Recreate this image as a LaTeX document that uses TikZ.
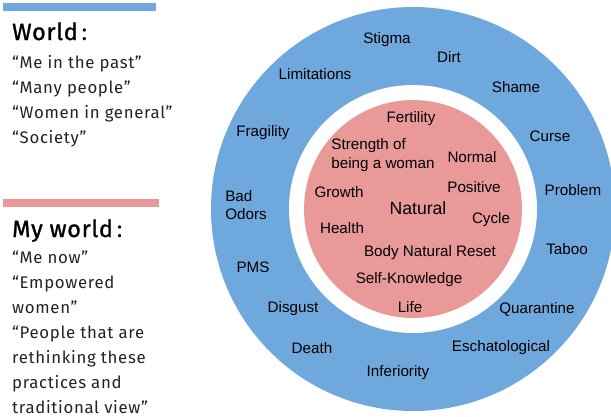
\documentclass[tikz,border=0pt]{standalone}
\usepackage{fontspec}
\setmainfont{Liberation Sans}
\newfontfamily\slidefont[LetterSpace=4]{Fira Sans}
\newfontfamily\slidehead[LetterSpace=3, FakeBold=1.2]{Fira Sans}
\usetikzlibrary{positioning}
\definecolor{ringblue}{HTML}{6FA8DC}
\definecolor{corepink}{HTML}{EA9999}
\definecolor{txtdark}{RGB}{35,35,35}
\tikzset{
  word/.style={font=\fontsize{15.2}{18.5}\selectfont, inner sep=0pt, text=black},
  bigword/.style={font=\fontsize{17.6}{20}\selectfont, inner sep=0pt, text=black},
  headline/.style={font=\fontsize{23.5}{26}\selectfont, anchor=base west,
    inner sep=0pt, text=black},
  quoteline/.style={font=\slidefont\fontsize{16.8}{20}\selectfont, anchor=base west,
    inner sep=0pt, text=txtdark},
  bar/.style={line width=8pt}
}

\begin{document}
\begin{tikzpicture}[x=1pt, y=-1pt]
  \useasboundingbox (0,0) rectangle (611,416);

  % rings
  \fill[ringblue] (413,209) circle (202pt);
  \fill[white] (413,209) circle (124pt);
  \fill[corepink] (413,209) circle (109pt);

  % left legend
  \draw[bar, ringblue] (3,7) -- (156,7);
  \node[headline] (worldhead) at (12,40) {{\slidehead World}\,{\slidefont:}};
  \foreach \txt [count=\i] in {“Me in the past”, “Many people”,
      “Women in general”, “Society”}
    \node[quoteline] (world\i) at (12,43+25*\i) {\txt};

  \draw[bar, corepink] (3,203) -- (159,203);
  \node[headline] (myhead) at (12,237) {{\slidehead My world}\,{\slidefont:}};
  \foreach \txt [count=\i] in {“Me now”,
      “Empowered,
      women”,
      “People that are,
      rethinking these,
      practices and,
      traditional view”}
    \node[quoteline] (my\i) at (12,238+25*\i) {\txt};

  % outer ring words
  \node[word] (stigma) at (387,40) {Stigma};
  \node[word] (dirt) at (449,57) {Dirt};
  \node[word] (limits) at (315,74) {Limitations};
  \node[word] (shame) at (516,87) {Shame};
  \node[word] (fragility) at (263,133) {Fragility};
  \node[word] (curse) at (550,136) {Curse};
  \node[word, align=left] (odors) at (246,205) {Bad\\Odors};
  \node[word] (problem) at (573,190) {Problem};
  \node[word] (taboo) at (567,249) {Taboo};
  \node[word] (pms) at (253,267) {PMS};
  \node[word] (disgust) at (293,309) {Disgust};
  \node[word] (quarantine) at (537,309) {Quarantine};
  \node[word] (death) at (312,348) {Death};
  \node[word] (eschat) at (501,348) {Eschatological};
  \node[word] (inferiority) at (398,373) {Inferiority};

  % inner circle words
  \node[word] (fertility) at (411,119) {Fertility};
  \node[word, align=left] (strength) at (383,155) {Strength of\\being a woman};
  \node[word] (normal) at (472,157) {Normal};
  \node[word] (positive) at (474,187) {Positive};
  \node[word] (growth) at (339,192) {Growth};
  \node[bigword] (natural) at (418,208) {Natural};
  \node[word] (cycle) at (491,220) {Cycle};
  \node[word] (health) at (342,228) {Health};
  \node[word] (reset) at (430,253) {Body Natural Reset};
  \node[word] (selfknow) at (409,280) {Self-Knowledge};
  \node[word] (life) at (410,307) {Life};
\end{tikzpicture}
\end{document}
